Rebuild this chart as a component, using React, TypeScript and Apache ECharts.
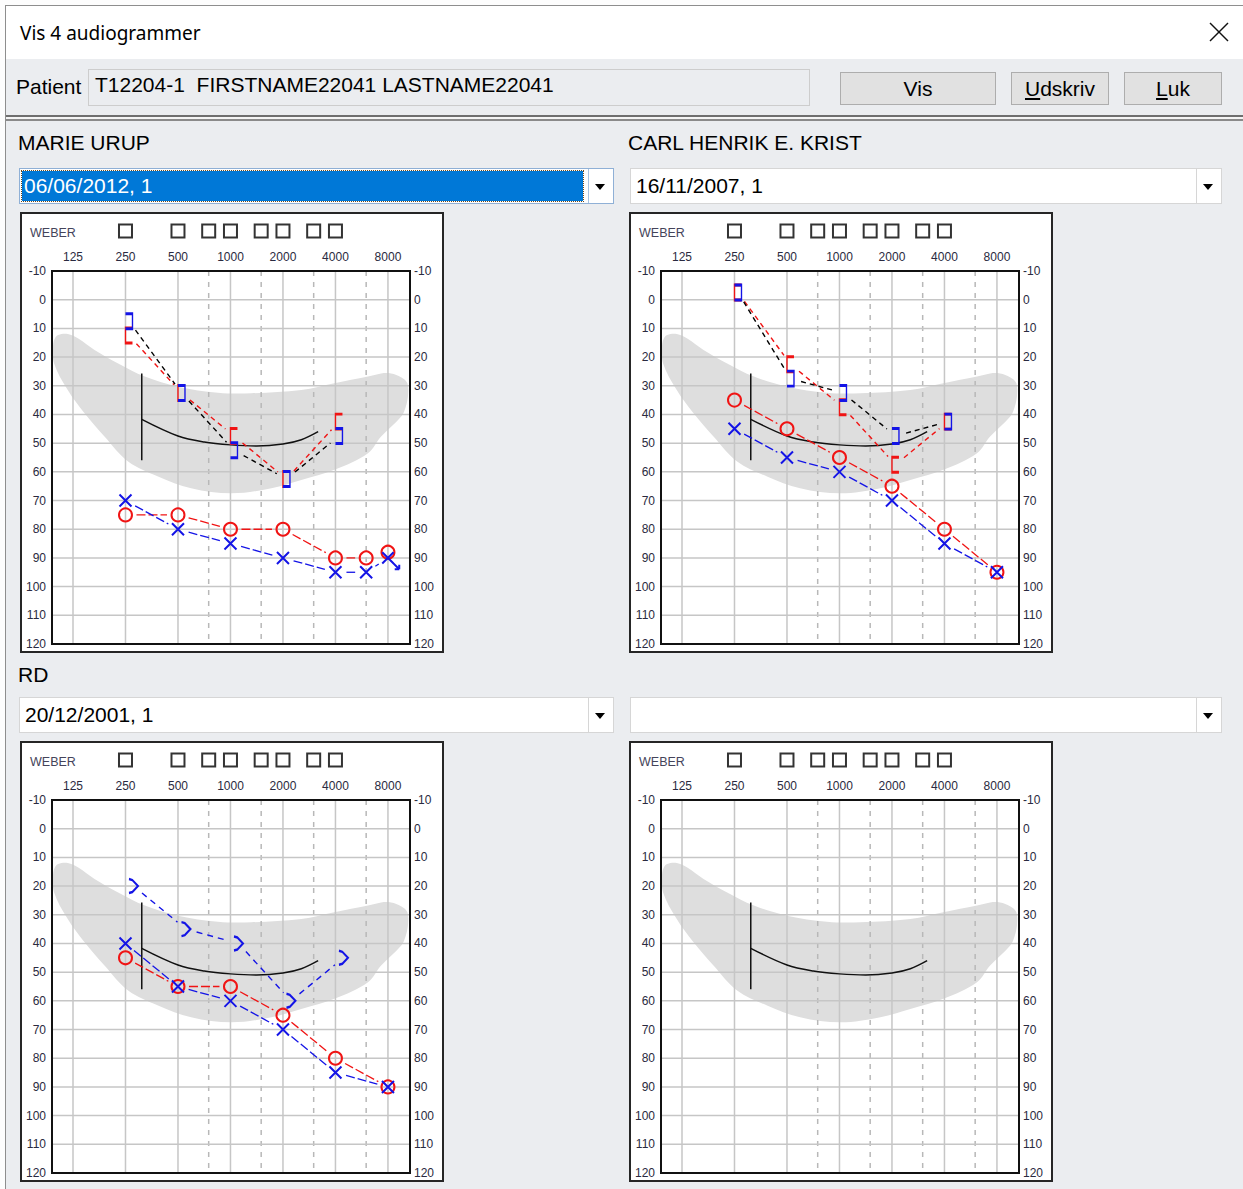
import React, { useEffect, useRef } from "react";
import * as echarts from "echarts";

// ---------- Axis scales ----------
const FREQ_TICKS = [125, 250, 500, 1000, 2000, 4000, 8000];
const HALF_OCTAVE_FREQS = [750, 1500, 3000, 6000];
const DB_GRID_LINES = [0, 10, 20, 30, 40, 50, 60, 70, 80, 90, 100, 110];
const DB_MIN = -10;
const DB_MAX = 120;
const OCT_MIN = -0.4;
const OCT_MAX = 6.42;
const WEBER_FREQS = [250, 500, 750, 1000, 1500, 2000, 3000, 4000];

// Normal-hearing zone outline (octaves above 125 Hz, dB HL)
const ZONE_OCT = [-0.22, -0.1, 0.1, 0.41, 0.86, 1.37, 2.0, 2.76, 3.4, 4.35, 4.98, 5.62, 5.87, 6.06, 6.25, 6.37, 6.38, 6.32, 6.25, 5.87, 5.62, 4.98, 4.35, 3.78, 3.02, 2.25, 1.62, 1.05, 0.6, 0.22, -0.1, -0.36, -0.38, -0.33];
const ZONE_DB = [12, 12, 13.5, 17.5, 22.2, 26.8, 30.3, 32.4, 32.6, 31.5, 29.1, 26.8, 25.7, 25.7, 27, 29.1, 33.8, 38.4, 40.8, 47.7, 53.5, 59.3, 62.8, 65.7, 67.5, 65.7, 61.6, 56.4, 47.7, 39.6, 31.5, 22.2, 16, 13];

// Reference curve and bar (octaves above 125 Hz, dB HL)
const REF_CURVE_OCT = [1.31, 2.0, 2.5, 3.0, 3.5, 4.0, 4.35, 4.67];
const REF_CURVE_DB = [41.7, 47.5, 49.6, 50.6, 51.0, 50.3, 48.8, 46.0];
const REF_BAR_OCT = [1.31, 1.31];
const REF_BAR_DB = [25.7, 56];

// ---------- Panel 1: MARIE URUP 06/06/2012 ----------
const MU_AC_FREQS = [250, 500, 1000, 2000, 4000, 6000, 8000];
const MU_RIGHT_AC = [75, 75, 80, 80, 90, 90, 88];
const MU_LEFT_AC = [70, 80, 85, 90, 95, 95, 90];
const MU_LEFT_AC_NO_RESPONSE = [8000];
const MU_BC_FREQS = [250, 500, 1000, 2000, 4000];
const MU_RIGHT_BC_MASKED = [10, 30, 45, 60, 40];
const MU_LEFT_BC_MASKED = [5, 30, 50, 60, 45];

// ---------- Panel 2: CARL HENRIK E. KRIST 16/11/2007 ----------
const CK_AC_FREQS = [250, 500, 1000, 2000, 4000, 8000];
const CK_RIGHT_AC = [35, 45, 55, 65, 80, 95];
const CK_LEFT_AC = [45, 55, 60, 70, 85, 95];
const CK_BC_FREQS = [250, 500, 1000, 2000, 4000];
const CK_RIGHT_BC_MASKED = [-5, 20, 35, 55, 40];
const CK_LEFT_BC_MASKED = [-5, 25, 30, 45, 40];

// ---------- Panel 3: RD 20/12/2001 ----------
const RD_AC_FREQS = [250, 500, 1000, 2000, 4000, 8000];
const RD_RIGHT_AC = [45, 55, 55, 65, 80, 90];
const RD_LEFT_AC = [40, 55, 60, 70, 85, 90];
const RD_BC_FREQS = [250, 500, 1000, 2000, 4000];
const RD_LEFT_BC = [20, 35, 40, 60, 45];

const RED = "#f01414";
const BLUE = "#1414e6";
const LBL = "#2a2a40";
const UI_FONT = '"Liberation Sans", Arial, sans-serif';

const X_SYM = "path://M0,0L10,10M10,0L0,10";
const X_NR_SYM = "path://M0,0L10,10M10,0L0,10M7,7L15,15M15,15L15,11M15,15L11,15";
const RB_SYM = "path://M7,0L0,0L0,15L7,15";
const LB_SYM = "path://M0,0L7,0L7,15L0,15";
const GT_SYM = "path://M0,0L3,1L8,7L3,13L0,14";

const oct = (f: number) => Math.log2(f / 125);

interface Panel {
  acFreqs: number[];
  rightAC: number[];
  leftAC: number[];
  leftNR?: number[];
  bcFreqs: number[];
  rightBCMasked?: number[];
  leftBCMasked?: number[];
  leftBC?: number[];
}

function segs(freqs: number[], vals: number[], off: number) {
  const d: number[][] = [];
  for (let i = 0; i < vals.length - 1; i++) {
    d.push([oct(freqs[i]), vals[i] + off, oct(freqs[i + 1]), vals[i + 1] + off]);
  }
  return d;
}

function connector(data: number[][], color: string, dash: number[], gap: number, width: number, dxPx: number) {
  return {
    type: "custom",
    xAxisIndex: 0,
    yAxisIndex: 0,
    z: 4,
    silent: true,
    data,
    encode: { x: [0, 2], y: [1, 3] },
    renderItem: (_p: any, api: any) => {
      const a = api.coord([api.value(0), api.value(1)]);
      const b = api.coord([api.value(2), api.value(3)]);
      a[0] += dxPx;
      b[0] += dxPx;
      const dx = b[0] - a[0];
      const dy = b[1] - a[1];
      const L = Math.hypot(dx, dy);
      if (L < 2 * gap + 2) return null;
      const ux = dx / L;
      const uy = dy / L;
      return {
        type: "line",
        shape: { x1: a[0] + ux * gap, y1: a[1] + uy * gap, x2: b[0] - ux * gap, y2: b[1] - uy * gap },
        style: { stroke: color, lineWidth: width, lineDash: dash, fill: null },
      };
    },
  };
}

function scatter(freqs: number[], vals: number[], symbol: string, size: any, color: string, off: number, offset: number[], z: number, nr?: number[]) {
  return {
    type: "scatter",
    xAxisIndex: 0,
    yAxisIndex: 0,
    z,
    silent: true,
    symbol,
    symbolSize: size,
    symbolOffset: offset,
    symbolKeepAspect: false,
    itemStyle: { color: "rgba(0,0,0,0)", borderColor: color, borderWidth: 2, opacity: 1 },
    data: vals.map((v, i) => {
      if (nr && nr.includes(freqs[i])) {
        return { value: [oct(freqs[i]), v + off], symbol: X_NR_SYM, symbolSize: [17, 17], symbolOffset: [2.8, 2.8] };
      }
      return [oct(freqs[i]), v + off];
    }),
  };
}

function buildOption(p: Panel | null) {
  const series: any[] = [];
  // normal zone
  series.push({
    type: "custom",
    xAxisIndex: 0,
    yAxisIndex: 0,
    z: 1,
    silent: true,
    data: [[0, 0]],
    encode: { x: 0, y: 1 },
    renderItem: (_p: any, api: any) => {
      const pts = ZONE_OCT.map((x, i) => api.coord([x, ZONE_DB[i]]));
      return { type: "polygon", shape: { points: pts, smooth: 0.35 }, style: { fill: "#dedede" } };
    },
  });
  // vertical grid lines
  const vData = FREQ_TICKS.map((f) => [oct(f), DB_MIN, 0]).concat(HALF_OCTAVE_FREQS.map((f) => [oct(f), DB_MIN, 1]));
  series.push({
    type: "custom",
    xAxisIndex: 0,
    yAxisIndex: 0,
    z: 2,
    silent: true,
    data: vData,
    encode: { x: 0, y: 1 },
    renderItem: (_p: any, api: any) => {
      const a = api.coord([api.value(0), DB_MIN]);
      const b = api.coord([api.value(0), DB_MAX]);
      const dashed = api.value(2) === 1;
      return {
        type: "line",
        shape: { x1: a[0], y1: a[1], x2: b[0], y2: b[1] },
        style: { stroke: dashed ? "#b8b8b8" : "#c6c6c6", lineWidth: 1.5, lineDash: dashed ? [5, 6] : null },
      };
    },
  });
  // horizontal grid lines
  series.push({
    type: "custom",
    xAxisIndex: 0,
    yAxisIndex: 0,
    z: 2,
    silent: true,
    data: DB_GRID_LINES.map((d) => [OCT_MIN, d]),
    encode: { x: 0, y: 1 },
    renderItem: (_p: any, api: any) => {
      const a = api.coord([OCT_MIN, api.value(1)]);
      const b = api.coord([OCT_MAX, api.value(1)]);
      return { type: "line", shape: { x1: a[0], y1: a[1], x2: b[0], y2: b[1] }, style: { stroke: "#c6c6c6", lineWidth: 1.5 } };
    },
  });
  // reference curve and bar
  series.push({
    type: "line",
    xAxisIndex: 0,
    yAxisIndex: 0,
    z: 3,
    silent: true,
    smooth: 0.35,
    showSymbol: false,
    symbol: "none",
    lineStyle: { color: "#111", width: 1.5 },
    data: REF_CURVE_OCT.map((x, i) => [x, REF_CURVE_DB[i]]),
  });
  series.push({
    type: "line",
    xAxisIndex: 0,
    yAxisIndex: 0,
    z: 3,
    silent: true,
    showSymbol: false,
    symbol: "none",
    lineStyle: { color: "#111", width: 1.5 },
    data: REF_BAR_OCT.map((x, i) => [x, REF_BAR_DB[i]]),
  });

  if (p) {
    series.push(connector(segs(p.acFreqs, p.rightAC, 0), RED, [9, 3], 11, 1.3, 0));
    series.push(connector(segs(p.acFreqs, p.leftAC, 0), BLUE, [9, 3], 11, 1.3, 0));
    if (p.rightBCMasked) series.push(connector(segs(p.bcFreqs, p.rightBCMasked, 2.5), RED, [5, 4], 11, 1.4, 3.5));
    if (p.leftBCMasked) series.push(connector(segs(p.bcFreqs, p.leftBCMasked, 2.5), "#000", [5, 4], 11, 1.4, 3.5));
    if (p.leftBC) series.push(connector(segs(p.bcFreqs, p.leftBC, 0), BLUE, [6, 5], 11, 1.4, 8));

    if (p.rightBCMasked) series.push(scatter(p.bcFreqs, p.rightBCMasked, RB_SYM, [7, 15], RED, 2.5, [3.5, 0], 5));
    if (p.leftBCMasked) series.push(scatter(p.bcFreqs, p.leftBCMasked, LB_SYM, [7, 15], BLUE, 2.5, [3.5, 0], 5));
    if (p.leftBC) series.push(scatter(p.bcFreqs, p.leftBC, GT_SYM, [9, 14], BLUE, 0, [8, 0], 5));
    series.push(scatter(p.acFreqs, p.rightAC, "circle", 13, RED, 0, [0, 0], 6));
    series.push(scatter(p.acFreqs, p.leftAC, X_SYM, 12, BLUE, 0, [0, 0], 7, p.leftNR));
  }

  // plot frame
  series.push({
    type: "custom",
    xAxisIndex: 0,
    yAxisIndex: 0,
    z: 8,
    silent: true,
    data: [[OCT_MIN, DB_MIN]],
    encode: { x: 0, y: 1 },
    renderItem: (_p: any, api: any) => {
      const a = api.coord([OCT_MIN, DB_MIN]);
      const b = api.coord([OCT_MAX, DB_MAX]);
      return {
        type: "rect",
        shape: { x: a[0], y: a[1], width: b[0] - a[0], height: b[1] - a[1] },
        style: { fill: null, stroke: "#111", lineWidth: 2 },
      };
    },
  });

  // Weber boxes
  series.push({
    type: "scatter",
    xAxisIndex: 1,
    yAxisIndex: 2,
    silent: true,
    symbol: "rect",
    symbolSize: 13,
    itemStyle: { color: "rgba(0,0,0,0)", borderColor: "#000", borderWidth: 2 },
    data: WEBER_FREQS.map((f) => [oct(f), 0.5]),
  });

  const yLabel = { fontSize: 12, color: LBL, fontFamily: UI_FONT, showMinLabel: true, showMaxLabel: true };
  return {
    animation: false,
    grid: [
      { left: 32, top: 59, width: 358, height: 373, show: true, backgroundColor: "#fff", borderWidth: 0 },
      { left: 32, top: 10, width: 358, height: 18 },
    ],
    graphic: [
      { type: "text", left: 10, top: 14, style: { text: "WEBER", fontSize: 12.5, fill: "#44445a", fontFamily: UI_FONT } },
    ],
    xAxis: [
      {
        gridIndex: 0,
        type: "value",
        min: OCT_MIN,
        max: OCT_MAX,
        position: "top",
        axisLine: { show: false },
        axisTick: { show: false },
        splitLine: { show: false },
        axisLabel: {
          customValues: FREQ_TICKS.map(oct),
          formatter: (v: number) => String(FREQ_TICKS[Math.round(v)]),
          fontSize: 12,
          color: LBL,
          fontFamily: UI_FONT,
          margin: 8,
        },
      },
      { gridIndex: 1, type: "value", min: OCT_MIN, max: OCT_MAX, show: false },
    ],
    yAxis: [
      {
        gridIndex: 0,
        type: "value",
        inverse: true,
        min: DB_MIN,
        max: DB_MAX,
        interval: 10,
        position: "left",
        axisLine: { show: false },
        axisTick: { show: false },
        splitLine: { show: false },
        axisLabel: { ...yLabel, margin: 6 },
      },
      {
        gridIndex: 0,
        type: "value",
        inverse: true,
        min: DB_MIN,
        max: DB_MAX,
        interval: 10,
        position: "right",
        axisLine: { show: false },
        axisTick: { show: false },
        splitLine: { show: false },
        axisLabel: { ...yLabel, margin: 4 },
      },
      { gridIndex: 1, type: "value", min: 0, max: 1, show: false },
    ],
    series,
  };
}

const PANEL_MU: Panel = {
  acFreqs: MU_AC_FREQS,
  rightAC: MU_RIGHT_AC,
  leftAC: MU_LEFT_AC,
  leftNR: MU_LEFT_AC_NO_RESPONSE,
  bcFreqs: MU_BC_FREQS,
  rightBCMasked: MU_RIGHT_BC_MASKED,
  leftBCMasked: MU_LEFT_BC_MASKED,
};
const PANEL_CK: Panel = {
  acFreqs: CK_AC_FREQS,
  rightAC: CK_RIGHT_AC,
  leftAC: CK_LEFT_AC,
  bcFreqs: CK_BC_FREQS,
  rightBCMasked: CK_RIGHT_BC_MASKED,
  leftBCMasked: CK_LEFT_BC_MASKED,
};
const PANEL_RD: Panel = {
  acFreqs: RD_AC_FREQS,
  rightAC: RD_RIGHT_AC,
  leftAC: RD_LEFT_AC,
  bcFreqs: RD_BC_FREQS,
  leftBC: RD_LEFT_BC,
};

function Audiogram({ left, top, data }: { left: number; top: number; data: Panel | null }) {
  const ref = useRef<HTMLDivElement>(null);
  useEffect(() => {
    const chart = echarts.init(ref.current!, undefined, { renderer: "svg" });
    chart.setOption(buildOption(data) as any);
    return () => chart.dispose();
  }, []);
  return (
    <>
      <div ref={ref} style={{ position: "absolute", left, top, width: 424, height: 441, background: "#fff" }} />
      <div
        style={{
          position: "absolute",
          left,
          top,
          width: 424,
          height: 441,
          border: "2px solid #262626",
          boxSizing: "border-box",
          pointerEvents: "none",
        }}
      />
    </>
  );
}

function Dropdown({ left, top, width, text, selected }: { left: number; top: number; width: number; text: string; selected?: boolean }) {
  const h = 36;
  return (
    <div
      style={{
        position: "absolute",
        left,
        top,
        width,
        height: h,
        boxSizing: "border-box",
        border: selected ? "1px solid #8fb0d6" : "1px solid #d6d6d6",
        background: "#fff",
      }}
    >
      {selected ? (
        <div
          style={{
            position: "absolute",
            left: 2,
            top: 2,
            width: width - 34,
            height: h - 6,
            background: "#0078d7",
            outline: "1px dotted #6b4a1c",
            color: "#fff",
            fontSize: 21,
            lineHeight: `${h - 6}px`,
            paddingLeft: 2,
            boxSizing: "border-box",
          }}
        >
          {text}
        </div>
      ) : (
        <div style={{ position: "absolute", left: 5, top: 0, height: h - 2, lineHeight: `${h - 2}px`, fontSize: 21, color: "#000" }}>{text}</div>
      )}
      <div
        style={{
          position: "absolute",
          right: 0,
          top: 0,
          width: 24,
          height: h - 2,
          borderLeft: selected ? "1px solid #a8c2e0" : "1px solid #d6d6d6",
        }}
      >
        <svg width={24} height={h - 2} style={{ position: "absolute", left: 0, top: 0 }}>
          <polygon points="6,15 16,15 11,21" fill="#000" />
        </svg>
      </div>
    </div>
  );
}

function Button({ left, width, children }: { left: number; width: number; children: React.ReactNode }) {
  return (
    <div
      style={{
        position: "absolute",
        left,
        top: 72,
        width,
        height: 33,
        boxSizing: "border-box",
        border: "1px solid #adadad",
        background: "#e1e1e1",
        fontSize: 21,
        lineHeight: "31px",
        textAlign: "center",
        color: "#000",
      }}
    >
      {children}
    </div>
  );
}

function Label({ left, top, text }: { left: number; top: number; text: string }) {
  return (
    <div style={{ position: "absolute", left, top, height: 24, lineHeight: "24px", fontSize: 21, color: "#000", whiteSpace: "pre" }}>{text}</div>
  );
}

export default function App() {
  return (
    <div
      style={{
        position: "absolute",
        left: 0,
        top: 0,
        width: 1243,
        height: 1189,
        overflow: "hidden",
        background: "#fdfdfd",
        fontFamily: UI_FONT,
      }}
    >
      {/* window frame */}
      <div style={{ position: "absolute", left: 5, top: 5, width: 1238, height: 1184, background: "#ebedf0", borderLeft: "1px solid #8e8e8e", borderTop: "1px solid #8e8e8e" }} />
      {/* title bar */}
      <div style={{ position: "absolute", left: 6, top: 6, width: 1237, height: 53, background: "#fff" }} />
      <div style={{ position: "absolute", left: 20, top: 19, height: 28, lineHeight: "28px", fontSize: 19, fontFamily: '"Noto Sans", "Open Sans", sans-serif', color: "#000" }}>
        Vis 4 audiogrammer
      </div>
      <svg width={22} height={22} style={{ position: "absolute", left: 1208, top: 21 }}>
        <line x1={2} y1={2} x2={20} y2={20} stroke="#111" strokeWidth={1.4} />
        <line x1={20} y1={2} x2={2} y2={20} stroke="#111" strokeWidth={1.4} />
      </svg>

      {/* patient row */}
      <Label left={16} top={75} text="Patient" />
      <div style={{ position: "absolute", left: 88, top: 69, width: 722, height: 37, boxSizing: "border-box", border: "1px solid #cdcdcd", background: "#ebedf0" }} />
      <Label left={95} top={73} text="T12204-1  FIRSTNAME22041 LASTNAME22041" />
      <Button left={840} width={156}>Vis</Button>
      <Button left={1011} width={98}>
        <span style={{ textDecoration: "underline" }}>U</span>dskriv
      </Button>
      <Button left={1124} width={98}>
        <span style={{ textDecoration: "underline" }}>L</span>uk
      </Button>

      {/* separator */}
      <div style={{ position: "absolute", left: 6, top: 115, width: 1237, height: 2, background: "#6e6e6e" }} />
      <div style={{ position: "absolute", left: 6, top: 117, width: 1237, height: 2, background: "#f4f4f4" }} />
      <div style={{ position: "absolute", left: 6, top: 119, width: 1237, height: 2, background: "#8a8a8a" }} />

      {/* row 1 */}
      <Label left={18} top={131} text="MARIE URUP" />
      <Label left={628} top={131} text="CARL HENRIK E. KRIST" />
      <Dropdown left={19} top={168} width={595} text="06/06/2012, 1" selected />
      <Dropdown left={630} top={168} width={592} text="16/11/2007, 1" />
      <Audiogram left={20} top={212} data={PANEL_MU} />
      <Audiogram left={629} top={212} data={PANEL_CK} />

      {/* row 2 */}
      <Label left={18} top={663} text="RD" />
      <Dropdown left={19} top={697} width={595} text="20/12/2001, 1" />
      <Dropdown left={630} top={697} width={592} text="" />
      <Audiogram left={20} top={741} data={PANEL_RD} />
      <Audiogram left={629} top={741} data={null} />
    </div>
  );
}
